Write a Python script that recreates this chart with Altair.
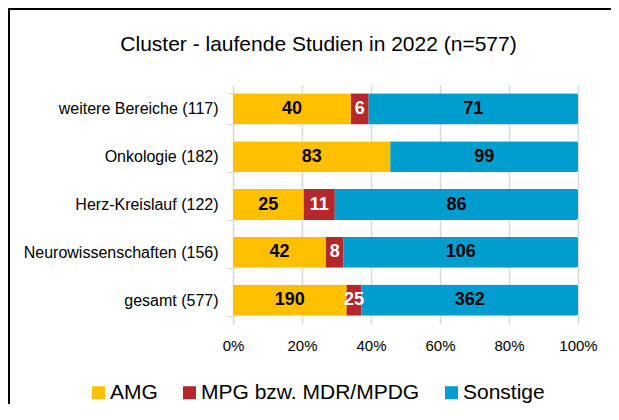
import altair as alt
import pandas as pd

categories = ["weitere Bereiche (117)", "Onkologie (182)", "Herz-Kreislauf (122)",
              "Neurowissenschaften (156)", "gesamt (577)"]
series = ["AMG", "MPG bzw. MDR/MPDG", "Sonstige"]
amg = [40, 83, 25, 42, 190]
mpg = [6, 0, 11, 8, 25]
sonstige = [71, 99, 86, 106, 362]
colors = ["#FFC000", "#B5272D", "#009ECE"]
label_colors = ["black", "white", "black"]

rows = []
for i, c in enumerate(categories):
    for j, (s, vals) in enumerate(zip(series, [amg, mpg, sonstige])):
        rows.append({"Kategorie": c, "Serie": s, "Wert": vals[i], "ord": j,
                     "lc": label_colors[j]})
df = pd.DataFrame(rows)
frame_df = pd.DataFrame({"k": [0]})

FONT = "Liberation Sans"

base = alt.Chart(df)

bars = base.mark_bar(cornerRadius=2).encode(
    y=alt.Y("Kategorie:N", sort=categories, title=None,
            scale=alt.Scale(paddingInner=0.35, paddingOuter=0.175),
            axis=alt.Axis(labelFont=FONT, labelFontSize=16, labelColor="black",
                          labelPadding=9, labelLimit=400, tickBand="extent", tickSize=6,
                          tickColor="#D9D9D9", domainColor="#D9D9D9", grid=False)),
    x=alt.X("Wert:Q", stack="normalize", title=None,
            scale=alt.Scale(domain=[0, 1]),
            axis=alt.Axis(format="%", values=[0, 0.2, 0.4, 0.6, 0.8, 1.0],
                          labelFont=FONT, labelFontSize=15, labelColor="black",
                          labelPadding=14, labelFlush=False, ticks=False, domain=False,
                          grid=True, gridColor="#D9D9D9", gridWidth=1.5)),
    color=alt.Color("Serie:N", sort=series,
                    scale=alt.Scale(domain=series, range=colors),
                    legend=alt.Legend(title=None, orient="none", direction="horizontal",
                                      legendX=-145, legendY=297,
                                      symbolType="square", symbolSize=170,
                                      symbolStrokeWidth=0, symbolOpacity=1,
                                      labelFont=FONT, labelFontSize=21, labelLimit=400,
                                      labelColor="black", labelOffset=1,
                                      columnPadding=21, columns=3)),
    order=alt.Order("ord:Q"),
)

texts = base.transform_filter("datum.Wert > 0").transform_stack(
    stack="Wert", groupby=["Kategorie"], as_=["x0", "x1"],
    offset="normalize", sort=[alt.SortField("ord")]
).transform_calculate(xm="(datum.x0 + datum.x1) / 2").mark_text(
    font=FONT, fontSize=18, fontWeight="bold", baseline="middle", align="center"
).encode(
    y=alt.Y("Kategorie:N", sort=categories),
    x=alt.X("xm:Q"),
    text=alt.Text("Wert:Q"),
    color=alt.Color("lc:N", scale=None, legend=None),
)

frame = alt.Chart(frame_df).mark_rect(
    fillOpacity=0, fill="white", stroke="black", strokeWidth=2
).encode(
    x=alt.value(-224), x2=alt.value(420), y=alt.value(-76), y2=alt.value(400))

chart = alt.layer(bars, texts, frame).properties(
    width=345, height=239,
    autosize=alt.AutoSizeParams(type="none"),
    padding={"left": 225, "top": 77, "right": 33, "bottom": 80},
    title=alt.TitleParams("Cluster - laufende Studien in 2022 (n=577)",
                          font=FONT, fontSize=21, fontWeight="normal",
                          color="black", anchor="middle", frame="group",
                          dx=-87, dy=47, offset=0),
).configure_view(stroke=None)

chart.save("out.html", embed_options={"renderer": "svg", "actions": False})
